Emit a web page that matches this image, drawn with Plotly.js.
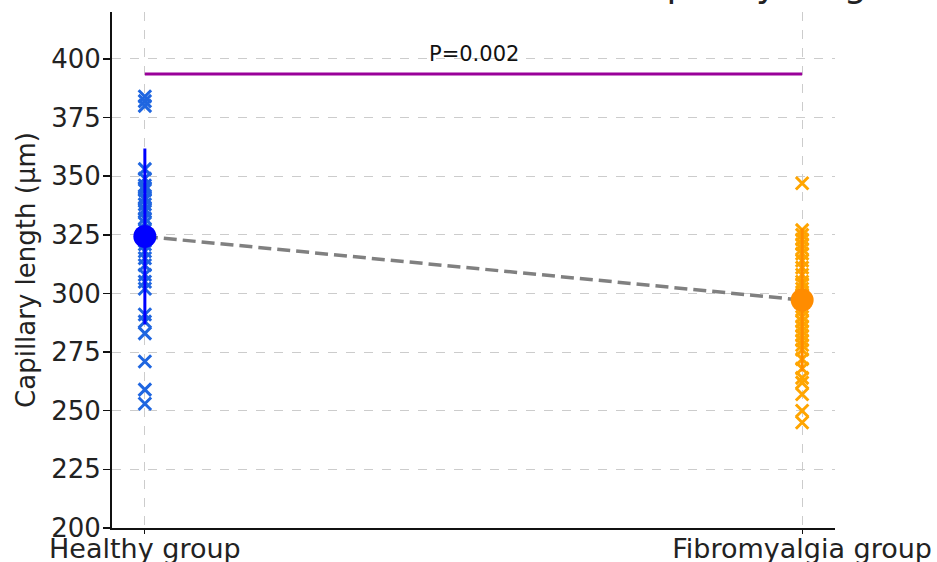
<!DOCTYPE html>
<html>
<head>
<meta charset="utf-8">
<script src="https://cdn.plot.ly/plotly-3.0.1.min.js"></script>
<style>
  html, body { margin: 0; padding: 0; background: #fff; }
  #chart { width: 937px; height: 562px; }
</style>
</head>
<body>
<div id="chart"></div>
<script>
// ---- data ----
const categories = ['Healthy group', 'Fibromyalgia group'];
const healthyValues = [384, 382, 380, 353, 349, 346, 345, 344, 341, 340, 338, 336, 335, 332, 330, 327, 324, 321, 318, 315, 312, 308, 305, 302, 291, 288, 283, 271, 259, 253];
const fibroValues = [347, 327, 325, 323, 321, 319, 317, 314, 311, 308, 305, 304, 302, 299, 296, 293, 290, 288, 286, 284, 282, 280, 278, 276, 272, 268, 264, 262, 257, 250, 245];
const meanValues = [324.3, 297.2];
const sdValues = [37.5, 30.5];
const pValueText = 'P=0.002';
const sigLineY = 393.6;
const titleText = 'Mean capillary length';
const yTitle = 'Capillary length (μm)';
const yTicks = [200, 225, 250, 275, 300, 325, 350, 375, 400];

const FONT = 'DejaVu Sans, sans-serif';

const traces = [
  {
    x: healthyValues.map(() => categories[0]),
    y: healthyValues,
    type: 'scatter', mode: 'markers',
    marker: { symbol: 'x-thin', size: 12.5, line: { color: '#1f66e0', width: 3 } },
    hoverinfo: 'y'
  },
  {
    x: fibroValues.map(() => categories[1]),
    y: fibroValues,
    type: 'scatter', mode: 'markers',
    marker: { symbol: 'x-thin', size: 12.5, line: { color: '#ffa500', width: 3 } },
    hoverinfo: 'y'
  },
  {
    x: categories,
    y: meanValues,
    type: 'scatter', mode: 'lines',
    line: { color: '#808080', width: 3.5, dash: '13px,6px' },
    hoverinfo: 'skip'
  },
  {
    x: [categories[0]],
    y: [meanValues[0]],
    type: 'scatter', mode: 'markers',
    marker: { color: '#0000ff', size: 23 },
    error_y: { type: 'data', array: [sdValues[0]], color: '#0000ff', thickness: 3, width: 0 }
  },
  {
    x: [categories[1]],
    y: [meanValues[1]],
    type: 'scatter', mode: 'markers',
    marker: { color: '#ff8c00', size: 23 },
    error_y: { type: 'data', array: [sdValues[1]], color: '#ff8c00', thickness: 3, width: 0 }
  },
  {
    x: categories,
    y: [sigLineY, sigLineY],
    type: 'scatter', mode: 'lines',
    line: { color: '#990099', width: 3 },
    hoverinfo: 'skip'
  }
];

const layout = {
  width: 937, height: 562,
  margin: { l: 112, r: 102, t: 12, b: 34 },
  paper_bgcolor: '#ffffff', plot_bgcolor: '#ffffff',
  showlegend: false,
  font: { family: FONT, color: '#222222', size: 25 },
  xaxis: {
    type: 'category',
    categoryorder: 'array', categoryarray: categories,
    range: [-0.05, 1.05],
    showline: true, linecolor: '#111111', linewidth: 2,
    ticks: 'outside', ticklen: 4, tickwidth: 1.2, tickcolor: '#111111',
    ticklabelstandoff: -8,
    showgrid: true, gridcolor: '#cccccc', gridwidth: 1, griddash: 'dash',
    zeroline: false,
    tickfont: { family: FONT, size: 27, color: '#222222' },
    automargin: false
  },
  yaxis: {
    range: [200, 420],
    tickvals: yTicks,
    showline: true, linecolor: '#111111', linewidth: 2,
    ticks: 'outside', ticklen: 7, tickwidth: 1.5, tickcolor: '#111111',
    ticklabelstandoff: -3,
    showgrid: true, gridcolor: '#cccccc', gridwidth: 1, griddash: 'dash',
    zeroline: false,
    tickfont: { family: FONT, size: 26, color: '#222222' },
    title: { text: yTitle, font: { family: FONT, size: 26, color: '#222222' }, standoff: 8 },
    automargin: false
  },
  annotations: [
    {
      xref: 'paper', yref: 'paper', x: 0.5, y: 1 - (54 - 12) / 516,
      xanchor: 'center', yanchor: 'middle',
      text: pValueText, showarrow: false,
      font: { family: FONT, size: 21, color: '#111111' }
    },
    {
      xref: 'paper', yref: 'paper', x: (906 - 112) / 723, y: 1 + 5 / 516,
      xanchor: 'right', yanchor: 'bottom',
      text: titleText, showarrow: false,
      font: { family: FONT, size: 36, color: '#222222' }
    }
  ]
};

Plotly.newPlot('chart', traces, layout, { displayModeBar: false, staticPlot: true });
</script>
</body>
</html>
